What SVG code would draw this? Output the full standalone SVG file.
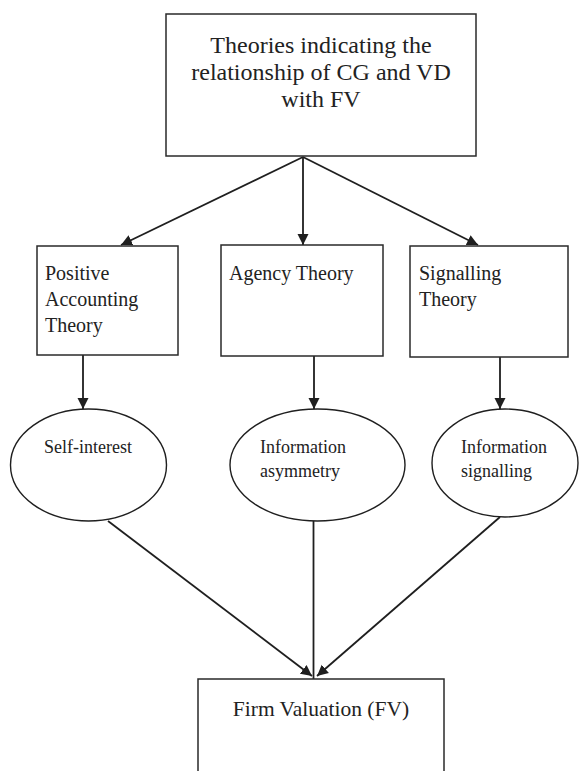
<svg xmlns="http://www.w3.org/2000/svg" width="579" height="771" viewBox="0 0 579 771">
  <style>
    .box { fill: #ffffff; stroke: #2a2a2a; stroke-width: 1.5; }
    .ell { fill: #ffffff; stroke: #1f1f1f; stroke-width: 1.4; }
    .conn { fill: none; stroke: #1f1f1f; stroke-width: 1.8; }
    .lbl { font-family: 'Liberation Serif', 'DejaVu Serif', serif; fill: #222222; }
    .t24 { font-size: 24px; }
    .t20 { font-size: 20px; }
    .t18 { font-size: 18px; }
    .t21 { font-size: 21.5px; }
  </style>
  <defs>
    <marker id="arrow" markerUnits="userSpaceOnUse" markerWidth="12" markerHeight="12" viewBox="0 0 12 12" refX="11" refY="6" orient="auto">
      <path d="M0,0.5 L11,6 L0,11.5 Z" fill="#1f1f1f"/>
    </marker>
  </defs>
  <rect width="579" height="771" fill="#ffffff"/>

  <g id="connectors">
    <line class="conn" x1="303" y1="157" x2="121" y2="245" marker-end="url(#arrow)"/>
    <line class="conn" x1="303" y1="157" x2="303" y2="245" marker-end="url(#arrow)"/>
    <line class="conn" x1="303" y1="157" x2="478" y2="245" marker-end="url(#arrow)"/>
    <line class="conn" x1="83" y1="355" x2="83" y2="409" marker-end="url(#arrow)"/>
    <line class="conn" x1="314" y1="356" x2="314" y2="409" marker-end="url(#arrow)"/>
    <line class="conn" x1="500" y1="357" x2="500" y2="409" marker-end="url(#arrow)"/>
    <line class="conn" x1="108" y1="521" x2="312" y2="676" marker-end="url(#arrow)"/>
    <line class="conn" x1="313.5" y1="521" x2="313.5" y2="679"/>
    <line class="conn" x1="500" y1="517" x2="317" y2="676" marker-end="url(#arrow)"/>
  </g>

  <g id="theories">
    <rect class="box" x="166" y="14" width="310" height="142"/>
    <text class="lbl t24" font-family="Liberation Serif, DejaVu Serif, serif" x="321" y="53" text-anchor="middle">Theories indicating the</text>
    <text class="lbl t24" font-family="Liberation Serif, DejaVu Serif, serif" x="321" y="80" text-anchor="middle">relationship of CG and VD</text>
    <text class="lbl t24" font-family="Liberation Serif, DejaVu Serif, serif" x="321" y="107" text-anchor="middle">with FV</text>
  </g>

  <g id="positive-accounting">
    <rect class="box" x="37" y="246" width="141" height="109"/>
    <text class="lbl t20" font-family="Liberation Serif, DejaVu Serif, serif" x="45" y="280">Positive</text>
    <text class="lbl t20" font-family="Liberation Serif, DejaVu Serif, serif" x="45" y="306">Accounting</text>
    <text class="lbl t20" font-family="Liberation Serif, DejaVu Serif, serif" x="45" y="332">Theory</text>
  </g>

  <g id="agency">
    <rect class="box" x="221" y="245" width="162" height="111"/>
    <text class="lbl t20" font-family="Liberation Serif, DejaVu Serif, serif" x="229" y="280">Agency Theory</text>
  </g>

  <g id="signalling">
    <rect class="box" x="410" y="246" width="158" height="111"/>
    <text class="lbl t20" font-family="Liberation Serif, DejaVu Serif, serif" x="419" y="280">Signalling</text>
    <text class="lbl t20" font-family="Liberation Serif, DejaVu Serif, serif" x="419" y="306">Theory</text>
  </g>

  <g id="self-interest">
    <ellipse class="ell" cx="88.5" cy="465" rx="78" ry="56"/>
    <text class="lbl t18" font-family="Liberation Serif, DejaVu Serif, serif" x="88" y="453" text-anchor="middle">Self-interest</text>
  </g>

  <g id="information-asymmetry">
    <ellipse class="ell" cx="317.5" cy="465" rx="87.5" ry="56"/>
    <text class="lbl t18" font-family="Liberation Serif, DejaVu Serif, serif" x="260" y="453">Information</text>
    <text class="lbl t18" font-family="Liberation Serif, DejaVu Serif, serif" x="260" y="477">asymmetry</text>
  </g>

  <g id="information-signalling">
    <ellipse class="ell" cx="505" cy="463" rx="73" ry="54"/>
    <text class="lbl t18" font-family="Liberation Serif, DejaVu Serif, serif" x="461" y="453">Information</text>
    <text class="lbl t18" font-family="Liberation Serif, DejaVu Serif, serif" x="461" y="477">signalling</text>
  </g>

  <g id="firm-valuation">
    <rect class="box" x="198" y="679" width="246" height="110"/>
    <text class="lbl t21" font-family="Liberation Serif, DejaVu Serif, serif" x="321" y="716" text-anchor="middle">Firm Valuation (FV)</text>
  </g>
</svg>
